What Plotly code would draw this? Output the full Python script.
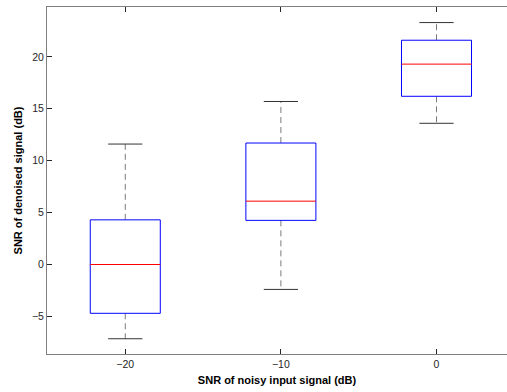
import plotly.graph_objects as go

positions = [-20, -10, 0]
upper_whisker = [11.6, 15.7, 23.3]
q3 = [4.3, 11.7, 21.6]
median = [0.0, 6.1, 19.3]
q1 = [-4.7, 4.25, 16.2]
lower_whisker = [-7.15, -2.4, 13.6]

x_ticks = [-20, -10, 0]
y_ticks = [-5, 0, 5, 10, 15, 20]

box_half = 2.25
cap_half = 1.1

fig = go.Figure()
for p, uw, hi, md, lo, lw in zip(positions, upper_whisker, q3, median, q1, lower_whisker):
    fig.add_trace(go.Scatter(x=[p, p, None, p, p], y=[hi, uw, None, lo, lw], mode="lines",
                             line=dict(color="#7a7a7a", width=1, dash="6px,4px"), showlegend=False, hoverinfo="skip"))
    fig.add_trace(go.Scatter(x=[p - cap_half, p + cap_half, None, p - cap_half, p + cap_half],
                             y=[uw, uw, None, lw, lw], mode="lines",
                             line=dict(color="#333333", width=1), showlegend=False, hoverinfo="skip"))
    fig.add_trace(go.Scatter(x=[p - box_half, p + box_half, p + box_half, p - box_half, p - box_half],
                             y=[lo, lo, hi, hi, lo], mode="lines", fill="toself", fillcolor="white",
                             line=dict(color="#0000ff", width=1), showlegend=False, hoverinfo="skip"))
    fig.add_trace(go.Scatter(x=[p - box_half, p + box_half], y=[md, md], mode="lines",
                             line=dict(color="#ff0000", width=1), showlegend=False, hoverinfo="skip"))

axis_common = dict(ticks="inside", ticklen=5, tickcolor="#262626", linecolor="#808080", linewidth=1,
                   showline=True, showgrid=False, zeroline=False,
                   tickfont=dict(family="Liberation Sans, Arial", size=10.5, color="#262626"))

fig.update_layout(
    width=507, height=392,
    margin=dict(l=47, r=0, t=7, b=38),
    paper_bgcolor="white", plot_bgcolor="white",
    xaxis=dict(range=[-25.03, 4.53], tickvals=x_ticks, mirror="ticks",
               title=dict(text="<b>SNR of noisy input signal (dB)</b>", standoff=7,
                          font=dict(family="Liberation Sans, Arial", size=11, color="#000000")),
               **axis_common),
    yaxis=dict(range=[-8.62, 24.8], tickvals=y_ticks, mirror=False,
               title=dict(text="<b>SNR of denoised signal (dB)</b>", standoff=7,
                          font=dict(family="Liberation Sans, Arial", size=11, color="#000000")),
               **axis_common),
)

fig.write_html("out.html")
